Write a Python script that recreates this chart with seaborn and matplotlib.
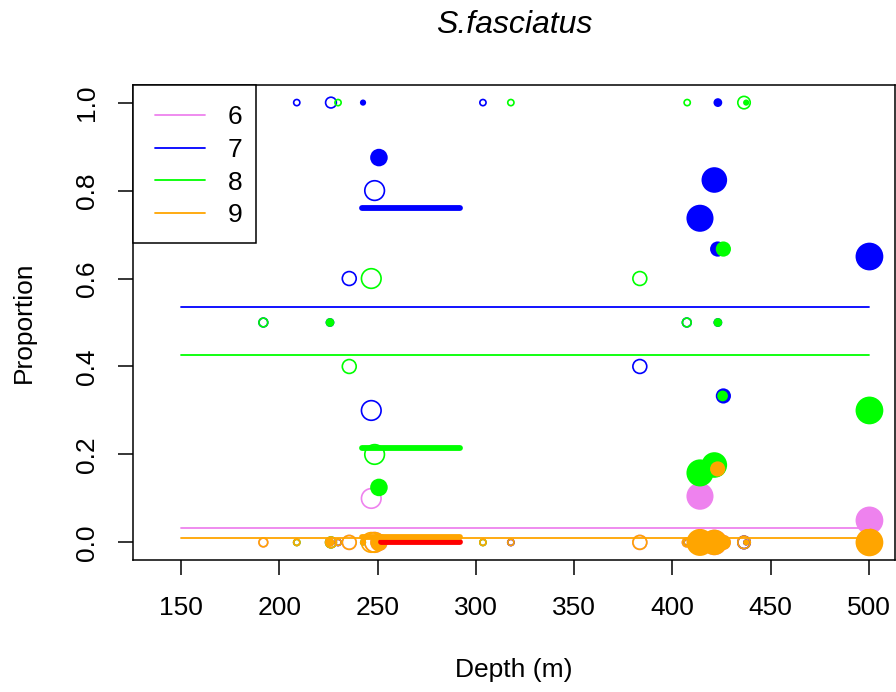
import numpy as np
import pandas as pd
import matplotlib
matplotlib.use("Agg")
import matplotlib.pyplot as plt
from matplotlib.lines import Line2D
from matplotlib.patches import Rectangle
import seaborn as sns

# ---- station data -------------------------------------------------------
# depth (m), number of fish aged, and whether the symbol is filled
depth = [191.9, 208.9, 226.3, 225.8, 229.9, 242.6, 235.6, 246.8, 248.5, 250.7,
         303.6, 317.8, 383.4, 407.3, 407.5, 423.1, 423.1, 436.4, 437.5,
         414.0, 421.3, 423.0, 425.9, 425.5, 500.2]
n_fish = [2, 1, 3, 2, 1, 1, 5, 10, 10, 8,
          1, 1, 5, 2, 1, 2, 2, 4, 1,
          19, 17, 6, 6, 3, 20]
filled = [False, False, False, True, False, True, False, False, False, True,
          False, False, False, False, False, True, True, False, True,
          True, True, True, True, True, True]

# proportion of each age at each station
prop_age6 = [0, 0, 0, 0, 0, 0, 0, 0.1, 0, 0,
             0, 0, 0, 0, 0, 0, 0, 0, 0,
             0.105, 0, 0, 0, 0, 0.05]
prop_age7 = [0.5, 1, 1, 0.5, 0, 1, 0.6, 0.3, 0.8, 0.875,
             1, 0, 0.4, 0.5, 0, 0.5, 1, 0, 0,
             0.737, 0.824, 0.667, 0.333, 0.667, 0.65]
prop_age8 = [0.5, 0, 0, 0.5, 1, 0, 0.4, 0.6, 0.2, 0.125,
             0, 1, 0.6, 0.5, 1, 0.5, 0, 1, 1,
             0.158, 0.176, 0.167, 0.667, 0.333, 0.3]
prop_age9 = [0, 0, 0, 0, 0, 0, 0, 0, 0, 0,
             0, 0, 0, 0, 0, 0, 0, 0, 0,
             0, 0, 0.167, 0, 0, 0]

ages = ["6", "7", "8", "9"]
age_colors = ["violet", "blue", "#00FF00", "orange"]

# overall mean proportion by age, over the full depth range
overall_mean = [0.033, 0.536, 0.425, 0.009]
overall_range = [150, 500]

# mean proportion by age within the shallow stratum
stratum_mean = [0.0, 0.76, 0.215, 0.013]
stratum_colors = ["red", "blue", "#00FF00", "orange"]
stratum_start = [252, 242, 242, 242]
stratum_end = [292, 292, 292, 292]

df = pd.DataFrame({
    "depth": depth, "n": n_fish, "filled": filled,
    "6": prop_age6, "7": prop_age7, "8": prop_age8, "9": prop_age9,
})

# ---- styling -------------------------------------------------------------
sns.set_theme(style="ticks", rc={
    "axes.edgecolor": "black",
    "axes.linewidth": 1.1,
    "axes.labelcolor": "black",
    "text.color": "black",
    "xtick.major.size": 10.8,
    "ytick.major.size": 10.8,
    "xtick.major.width": 1.1,
    "ytick.major.width": 1.1,
    "xtick.major.pad": 15,
    "ytick.major.pad": 14,
    "xtick.color": "black",
    "ytick.color": "black",
    "axes.grid": False,
})
plt.rcParams["font.family"] = ["Liberation Sans", "DejaVu Sans"]

W, H = 896, 692
fig = plt.figure(figsize=(W / 100, H / 100), dpi=100)
ax = fig.add_axes([133 / W, 1 - 560 / H, (895 - 133) / W, (560 - 85) / H])

# overall means
for mean, col in zip(overall_mean, age_colors):
    sns.lineplot(x=overall_range, y=[mean, mean], color=col, lw=1.3, ax=ax)

# stratum means
for mean, col, x0, x1 in zip(stratum_mean, stratum_colors, stratum_start, stratum_end):
    sns.lineplot(x=[x0, x1], y=[mean, mean], color=col, lw=4.2,
                 solid_capstyle="round", ax=ax)

# station proportions, symbol area proportional to number of fish
size_kw = dict(size="n", sizes=(20, 400), size_norm=(1, 20), legend=False, ax=ax)
for age, col in zip(ages, age_colors):
    sub_open = df[~df["filled"]]
    sub_fill = df[df["filled"]]
    sns.scatterplot(data=sub_open, x="depth", y=age, marker="o",
                    facecolor="none", edgecolor=col, linewidth=1.2, **size_kw)
    sns.scatterplot(data=sub_fill, x="depth", y=age, marker="o",
                    color=col, edgecolor=col, linewidth=0, **size_kw)

ax.set_xlim(125.6, 513.2)
ax.set_ylim(-0.04, 1.04)
ax.set_xticks([150, 200, 250, 300, 350, 400, 450, 500])
ax.set_yticks([0, 0.2, 0.4, 0.6, 0.8, 1.0])
ax.set_yticklabels(["0.0", "0.2", "0.4", "0.6", "0.8", "1.0"])
ax.tick_params(labelsize=19)
plt.setp(ax.get_yticklabels(), rotation=90, va="center")
for sp in ax.spines.values():
    sp.set_visible(True)

ax.set_xlabel("Depth (m)", fontsize=19)
ax.xaxis.set_label_coords(0.5, (560 - 670) / 475)
ax.xaxis.label.set_va("center")
ax.set_ylabel("Proportion", fontsize=19)
ax.yaxis.set_label_coords((24 - 133) / 762, 0.5)
ax.yaxis.label.set_va("center")
ax.text(0.5, (560 - 25) / 475, "S.fasciatus", transform=ax.transAxes,
        fontsize=23, style="italic", ha="center", va="center")

# legend: white box in the upper-left corner holding the age key
ax.add_patch(Rectangle((0, (560 - 243) / 475), (256 - 133) / 762, (243 - 85) / 475,
                       transform=ax.transAxes, facecolor="white",
                       edgecolor="black", linewidth=1.1, zorder=4, clip_on=False))
handles = [Line2D([0], [0], color=c, lw=1.3) for c in age_colors]
leg = ax.legend(handles, ages, loc="upper left",
                bbox_to_anchor=((155 - 133) / 762, (560 - 105.3) / 475),
                borderaxespad=0, frameon=False, fontsize=19,
                handlelength=1.89, handletextpad=0.87, labelspacing=0.33,
                borderpad=0)
leg.set_zorder(5)

fig.savefig("out.png", dpi=100, facecolor="white")
